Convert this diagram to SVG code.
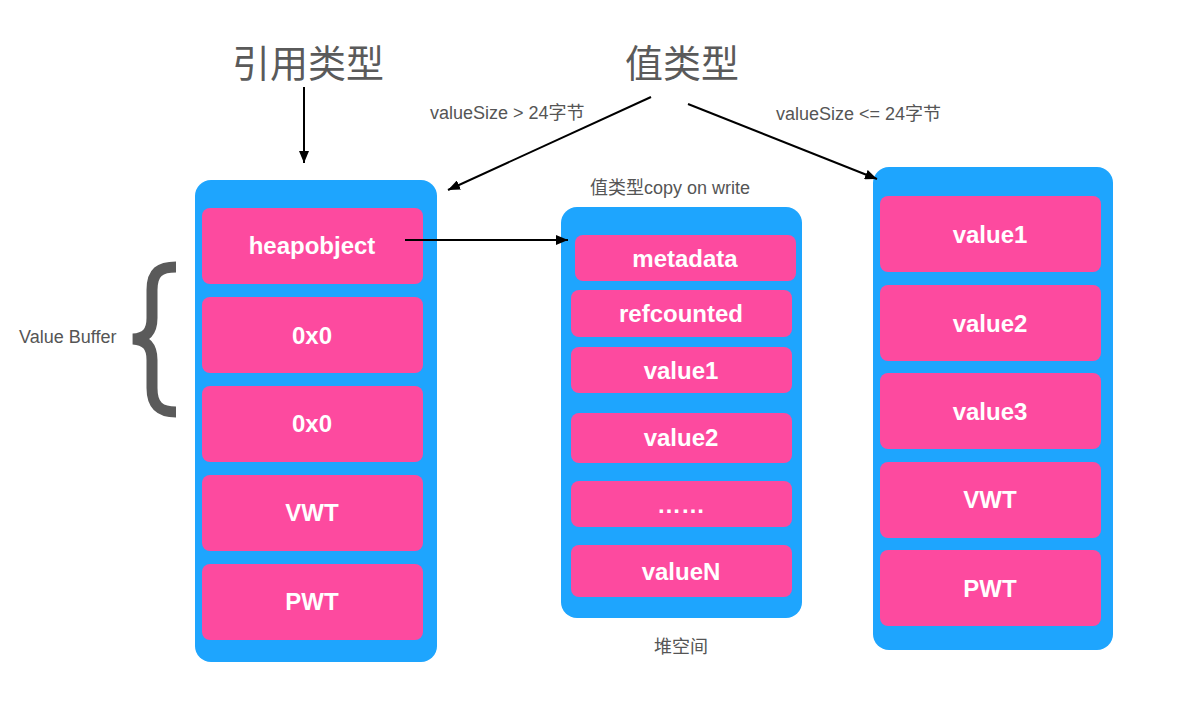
<svg xmlns="http://www.w3.org/2000/svg" width="1200" height="715" viewBox="0 0 1200 715">
<style>
.cont{fill:#1EA5FE;}
.cell{fill:#FD4A9F;}
.ct{font-family:"Liberation Sans",Arial,sans-serif;font-weight:bold;font-size:24px;fill:#ffffff;text-anchor:middle;}
.title{font-family:"Noto Sans CJK SC","Noto Sans",sans-serif;font-size:38px;fill:#5a5a5a;text-anchor:middle;}
.lbl{font-family:"Liberation Sans","Noto Sans CJK SC",sans-serif;font-size:18px;fill:#555555;}
.conn{stroke:#000000;stroke-width:2;fill:none;}
</style>
<defs>
<marker id="ah" viewBox="0 0 12 10" refX="12" refY="5" markerWidth="12" markerHeight="10" markerUnits="userSpaceOnUse" orient="auto">
<path d="M0,0 L12,5 L0,10 Z" fill="#000000"/>
</marker>
</defs>
<rect width="1200" height="715" fill="#ffffff"/>

<g id="titles">
<text class="title" x="308" y="77">引用类型</text>
<text class="title" x="682" y="77">值类型</text>
</g>

<g id="labels">
<text class="lbl" x="430" y="119">valueSize &gt; 24字节</text>
<text class="lbl" x="776" y="120">valueSize &lt;= 24字节</text>
<text class="lbl" x="590" y="194">值类型copy on write</text>
<text class="lbl" x="681" y="653" text-anchor="middle">堆空间</text>
<text class="lbl" x="19" y="343">Value Buffer</text>
</g>

<g id="brace">
<path d="M176 267 C160 267 152 272 152 290 L152 318 C152 332 146 338 133 339 C146 340 152 346 152 360 L152 388 C152 406 160 412 176 412" fill="none" stroke="#5a5a5a" stroke-width="11"/>
</g>

<g id="ref-container">
<rect class="cont" x="195" y="180" width="242" height="482" rx="16"/>
<g id="heapobject"><rect class="cell" x="202" y="208" width="221" height="76" rx="8"/><text class="ct" x="312" y="254">heapobject</text></g>
<g id="ref-0x0-a"><rect class="cell" x="202" y="297" width="221" height="76" rx="8"/><text class="ct" x="312" y="344">0x0</text></g>
<g id="ref-0x0-b"><rect class="cell" x="202" y="386" width="221" height="76" rx="8"/><text class="ct" x="312" y="432">0x0</text></g>
<g id="ref-vwt"><rect class="cell" x="202" y="475" width="221" height="76" rx="8"/><text class="ct" x="312" y="521">VWT</text></g>
<g id="ref-pwt"><rect class="cell" x="202" y="564" width="221" height="76" rx="8"/><text class="ct" x="312" y="610">PWT</text></g>
</g>

<g id="heap-container">
<rect class="cont" x="561" y="207" width="241" height="411" rx="16"/>
<g id="metadata"><rect class="cell" x="575" y="235" width="221" height="46" rx="8"/><text class="ct" x="685" y="267">metadata</text></g>
<g id="refcounted"><rect class="cell" x="571" y="290" width="221" height="47" rx="8"/><text class="ct" x="681" y="322">refcounted</text></g>
<g id="heap-value1"><rect class="cell" x="571" y="347" width="221" height="46" rx="8"/><text class="ct" x="681" y="379">value1</text></g>
<g id="heap-value2"><rect class="cell" x="571" y="413" width="221" height="50" rx="8"/><text class="ct" x="681" y="446">value2</text></g>
<g id="heap-dots"><rect class="cell" x="571" y="481" width="221" height="46" rx="8"/><text class="ct" x="681" y="513">……</text></g>
<g id="heap-valueN"><rect class="cell" x="571" y="545" width="221" height="52" rx="8"/><text class="ct" x="681" y="580">valueN</text></g>
</g>

<g id="value-container">
<rect class="cont" x="873" y="167" width="240" height="483" rx="16"/>
<g id="val-value1"><rect class="cell" x="880" y="196" width="221" height="76" rx="8"/><text class="ct" x="990" y="243">value1</text></g>
<g id="val-value2"><rect class="cell" x="880" y="285" width="221" height="76" rx="8"/><text class="ct" x="990" y="332">value2</text></g>
<g id="val-value3"><rect class="cell" x="880" y="373" width="221" height="76" rx="8"/><text class="ct" x="990" y="420">value3</text></g>
<g id="val-vwt"><rect class="cell" x="880" y="462" width="221" height="76" rx="8"/><text class="ct" x="990" y="508">VWT</text></g>
<g id="val-pwt"><rect class="cell" x="880" y="550" width="221" height="76" rx="8"/><text class="ct" x="990" y="597">PWT</text></g>
</g>

<g id="connectors">
<line class="conn" x1="304" y1="87" x2="304" y2="163" marker-end="url(#ah)"/>
<line class="conn" x1="651" y1="97" x2="448" y2="190" marker-end="url(#ah)"/>
<line class="conn" x1="688" y1="104" x2="877" y2="179" marker-end="url(#ah)"/>
<line class="conn" x1="405" y1="240" x2="568" y2="240" marker-end="url(#ah)"/>
</g>
</svg>
